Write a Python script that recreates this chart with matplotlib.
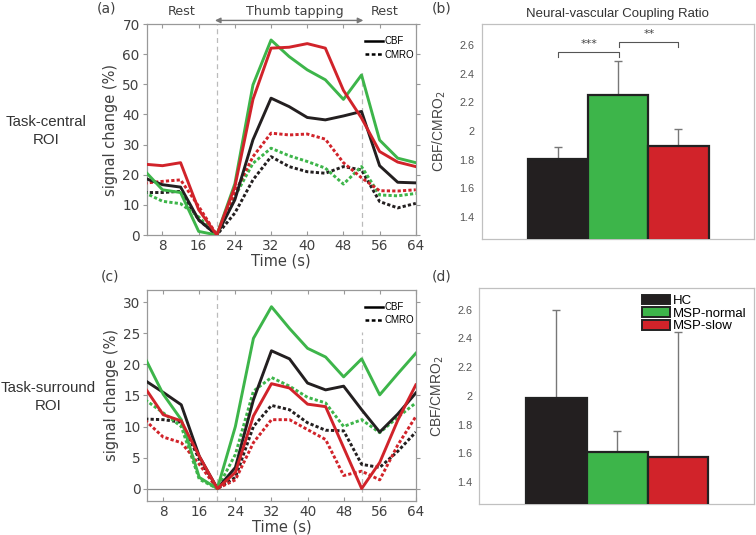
import matplotlib
matplotlib.use("Agg")
import matplotlib.pyplot as plt
from matplotlib.patches import Patch
import numpy as np

# ---------------- data ----------------
time = [4, 8, 12, 16, 20, 24, 28, 32, 36, 40, 44, 48, 52, 56, 60, 64]

# panel (a) task-central ROI
a_hc_cbf = [18.9, 16.7, 15.9, 5.0, 0, 11.7, 31.6, 45.4, 42.6, 39.0, 38.2, 39.5, 41.0, 23.0, 17.5, 17.3]
a_norm_cbf = [21.4, 15.0, 14.1, 1.2, 0, 17.0, 49.8, 64.7, 59.2, 54.8, 51.5, 45.0, 53.1, 31.5, 25.5, 24.0]
a_slow_cbf = [23.5, 23.0, 24.0, 8.4, 0, 16.0, 45.0, 62.0, 62.3, 63.5, 62.0, 48.0, 38.8, 27.7, 24.2, 22.7]
a_hc_cmro = [14.1, 14.1, 14.5, 5.0, 0, 7.3, 18.3, 26.0, 22.7, 21.0, 20.5, 22.7, 21.6, 11.1, 9.0, 10.5]
a_norm_cmro = [14.1, 11.2, 10.4, 6.0, 0, 12.8, 23.8, 28.8, 26.3, 24.4, 22.2, 16.9, 22.7, 13.3, 13.0, 13.8]
a_slow_cmro = [17.2, 17.8, 18.3, 9.5, 0, 14.0, 26.0, 33.8, 33.2, 33.5, 31.8, 24.0, 19.0, 14.7, 14.6, 15.0]

# panel (c) task-surround ROI
c_hc_cbf = [17.4, 15.5, 13.5, 5.2, 0, 3.4, 14.3, 22.2, 20.9, 17.0, 15.9, 16.5, 12.7, 9.1, 12.0, 15.4]
c_norm_cbf = [21.0, 15.2, 11.1, 1.8, 0, 10.0, 24.2, 29.3, 25.8, 22.6, 21.2, 18.0, 20.9, 15.1, 18.5, 21.8]
c_slow_cbf = [16.2, 11.9, 10.9, 5.2, 0, 2.6, 11.7, 16.9, 16.2, 13.6, 13.2, 6.6, 0.0, 4.2, 11.0, 16.7]
c_hc_cmro = [11.2, 11.1, 10.7, 4.7, 0, 1.8, 10.0, 13.4, 12.7, 10.6, 9.4, 9.3, 3.9, 3.4, 6.0, 9.1]
c_norm_cmro = [14.3, 12.2, 10.0, 1.5, 0, 5.5, 15.7, 17.9, 16.5, 14.7, 13.8, 10.0, 11.1, 9.0, 11.5, 13.8]
c_slow_cmro = [11.0, 8.3, 7.4, 3.9, 0, 1.4, 7.4, 11.1, 11.1, 9.5, 7.9, 2.1, 2.8, 1.4, 7.0, 11.6]

groups = ["HC", "MSP-normal", "MSP-slow"]
b_ratio = [1.803, 2.248, 1.894]
b_err = [0.086, 0.242, 0.123]
d_ratio = [1.982, 1.608, 1.573]
d_err = [0.613, 0.149, 0.871]

line_xticks = [8, 16, 24, 32, 40, 48, 56, 64]
a_yticks = [0, 10, 20, 30, 40, 50, 60, 70]
c_yticks = [0, 5, 10, 15, 20, 25, 30]
bar_yticks = [1.4, 1.6, 1.8, 2.0, 2.2, 2.4, 2.6]
bar_yticklabels = ["1.4", "1.6", "1.8", "2", "2.2", "2.4", "2.6"]

# ---------------- style ----------------
BLACK = "#231f20"
GREEN = "#3db54a"
RED = "#d1232a"
colors = [BLACK, GREEN, RED]
TXT = "#404040"
SP = "#999999"
DOT = (0, (1.1, 0.75))
LW = 2.1
LF = ["DejaVu Sans"]
HF = ["Liberation Sans", "DejaVu Sans"]

fig = plt.figure(figsize=(7.56, 5.35), dpi=100)

def line_panel(rect, cbf, cmro, ylim, yticks, vline2_top):
    ax = fig.add_axes(rect)
    for y, c in zip(cmro, colors):
        ax.plot(time, y, color=c, lw=LW, ls=DOT, zorder=3)
    for y, c in zip(cbf, colors):
        ax.plot(time, y, color=c, lw=LW, ls="-", zorder=4)
    ax.set_xlim(4.5, 64)
    ax.set_ylim(*ylim)
    ax.set_xticks(line_xticks)
    ax.set_yticks(yticks)
    ax.tick_params(axis="x", direction="in", top=True, length=3, color=SP,
                   labelsize=9.8, labelcolor=TXT, pad=3)
    ax.tick_params(axis="y", direction="out", right=True, length=3, color=SP,
                   labelsize=9.8, labelcolor=TXT, pad=2)
    for s in ax.spines.values():
        s.set_color(SP)
        s.set_linewidth(0.9)
    ax.axvline(20, color="#bbbbbb", lw=0.9, ls=(0, (4, 3)), zorder=1)
    ax.plot([52, 52], [ylim[0], vline2_top], color="#bbbbbb", lw=0.9,
            ls=(0, (4, 3)), zorder=1)
    ax.set_xlabel("Time (s)", fontsize=10.5, color=TXT, labelpad=0)
    ax.set_ylabel("signal change (%)", fontsize=10.5, color=TXT, labelpad=3)
    h1, = ax.plot([], [], color="black", lw=1.8, ls="-")
    h2, = ax.plot([], [], color="black", lw=1.8, ls=(0, (1.5, 1.0)))
    ax.legend([h1, h2], ["CBF", "CMRO"], loc="upper right", frameon=False,
              bbox_to_anchor=(1.02, 0.975), handlelength=1.9, handletextpad=0.15,
              labelspacing=0.35, borderpad=0.2,
              prop={"family": HF, "size": 7})
    return ax

axa = line_panel([0.194, 0.5607, 0.356, 0.3944],
                 [a_hc_cbf, a_norm_cbf, a_slow_cbf],
                 [a_hc_cmro, a_norm_cmro, a_slow_cmro],
                 (0, 70), a_yticks, 54)
axc = line_panel([0.195, 0.0636, 0.355, 0.3944],
                 [c_hc_cbf, c_norm_cbf, c_slow_cbf],
                 [c_hc_cmro, c_norm_cmro, c_slow_cmro],
                 (-2, 32), c_yticks, 25.3)
axc.axhline(0, color="#888888", lw=0.9, zorder=2)

# annotations above (a)
axa.annotate("", xy=(19.6, 1.017), xytext=(52.4, 1.017),
             xycoords=("data", "axes fraction"),
             textcoords=("data", "axes fraction"),
             arrowprops=dict(arrowstyle="<|-|>", color="#777777", lw=1.0,
                             mutation_scale=8, shrinkA=0, shrinkB=0),
             annotation_clip=False)
for x, s in [(12.2, "Rest"), (37.3, "Thumb tapping"), (57.2, "Rest")]:
    axa.text(x, 1.058, s, transform=axa.get_xaxis_transform(), ha="center",
             va="center", fontsize=9.2, color=TXT)

# panel letters and row labels
fig.text(107 / 756, 1 - 8 / 535, "(a)", fontsize=10, color=TXT, ha="center", va="center")
fig.text(110 / 756, 1 - 277 / 535, "(c)", fontsize=10, color=TXT, ha="center", va="center")
fig.text(442 / 756, 1 - 8 / 535, "(b)", fontsize=10, color=TXT, ha="center", va="center")
fig.text(442 / 756, 1 - 277 / 535, "(d)", fontsize=10, color=TXT, ha="center", va="center")
fig.text(46 / 756, 1 - 131 / 535, "Task-central\nROI", fontsize=10.8, color="#333333",
         ha="center", va="center", family=HF, linespacing=1.35)
fig.text(48 / 756, 1 - 397 / 535, "Task-surround\nROI", fontsize=10.8, color="#333333",
         ha="center", va="center", family=HF, linespacing=1.35)

# ---------------- bar panels ----------------
def bar_panel(rect, vals, errs):
    ax = fig.add_axes(rect)
    xpos = np.arange(1, 4)
    ax.bar(xpos, vals, width=1.0, color=colors, edgecolor="#222222",
           linewidth=1.6, zorder=3)
    ax.errorbar(xpos, vals, yerr=[[0, 0, 0], errs], fmt="none",
                ecolor="#777777", elinewidth=1.0, capsize=3, capthick=1.0, zorder=2)
    ax.set_xlim(-0.27, 4.25)
    ax.set_ylim(1.245, 2.748)
    ax.set_xticks([])
    ax.set_yticks(bar_yticks)
    ax.set_yticklabels(bar_yticklabels)
    ax.tick_params(axis="y", length=0, labelsize=7.8, labelcolor="#555555", pad=5)
    for lab in ax.get_yticklabels():
        lab.set_family(HF)
    for s in ax.spines.values():
        s.set_color("#c0c0c0")
        s.set_linewidth(0.9)
    ax.set_ylabel("CBF/CMRO$_2$", fontsize=10, color="#444444", labelpad=8,
                  family=HF)
    return ax

axb = bar_panel([0.637, 0.5533, 0.360, 0.402], b_ratio, b_err)
axd = bar_panel([0.6336, 0.0574, 0.3638, 0.4037], d_ratio, d_err)

axb.set_title("Neural-vascular Coupling Ratio", fontsize=9.5, color="#333333",
              family=HF, pad=5)

def bracket(ax, x1, x2, y, drop, txt):
    ax.plot([x1, x1, x2, x2], [y - drop, y, y, y - drop], color="#555555",
            lw=0.8, zorder=4)
    ax.text((x1 + x2) / 2, y + 0.025, txt, ha="center", va="bottom",
            fontsize=8, color="#444444")

bracket(axb, 1.0, 2.02, 2.549, 0.03, "***")
bracket(axb, 2.02, 3.0, 2.619, 0.03, "**")

handles = [Patch(facecolor=c, edgecolor="#222222", linewidth=1.4) for c in colors]
axd.legend(handles, groups, loc="upper right", frameon=False,
           bbox_to_anchor=(1.01, 1.02), handlelength=2.1, handleheight=0.75,
           handletextpad=0.2, labelspacing=0.02, borderpad=0.3,
           prop={"family": HF, "size": 9.5})

fig.savefig("out.png", dpi=100)
